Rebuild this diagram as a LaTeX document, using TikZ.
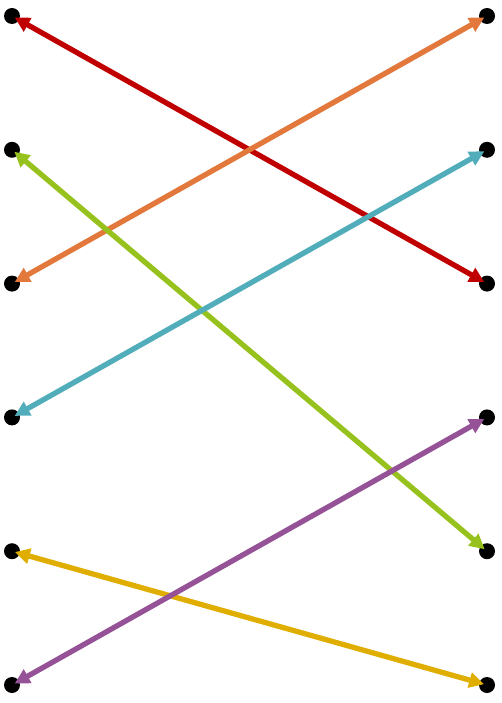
\documentclass[tikz,border=0pt]{standalone}
\usepackage{xcolor}
\usepackage{tikz}
\usetikzlibrary{arrows.meta}
\usetikzlibrary{positioning}

\definecolor{cred}{HTML}{C00000}
\definecolor{corange}{HTML}{E2783C}
\definecolor{cgreen}{HTML}{97C21E}
\definecolor{cteal}{HTML}{52ADBA}
\definecolor{cpurple}{HTML}{955297}
\definecolor{cyellow}{HTML}{E0AE00}

\begin{document}
\begin{tikzpicture}
  [x=1pt,y=-1pt,
  every node/.style={circle,fill=black,inner sep=0pt,minimum size=16pt},
  link/.style={line width=5.3pt,shorten <=3pt,shorten >=3pt,
    {Triangle[length=15pt,width=15pt]}-{Triangle[length=15pt,width=15pt]}}]

\useasboundingbox (0,0) rectangle (501,703);

% left column
\node (l1) at (12,16)    {};
\node (l2) at (12,149.8) {};
\node (l3) at (12,283.6) {};
\node (l4) at (12,417.4) {};
\node (l5) at (12,551.2) {};
\node (l6) at (12,685)   {};
% right column
\node (r1) at (487,16)    {};
\node (r2) at (487,149.8) {};
\node (r3) at (487,283.6) {};
\node (r4) at (487,417.4) {};
\node (r5) at (487,551.2) {};
\node (r6) at (487,685)   {};

\draw[link,cred]    (l1.center)--(r3.center);
\draw[link,corange] (l3.center)--(r1.center);
\draw[link,cgreen]  (l2.center)--(r5.center);
\draw[link,cteal]   (l4.center)--(r2.center);
\draw[link,cyellow] (l5.center)--(r6.center);
\draw[link,cpurple] (l6.center)--(r4.center);
\end{tikzpicture}
\end{document}
